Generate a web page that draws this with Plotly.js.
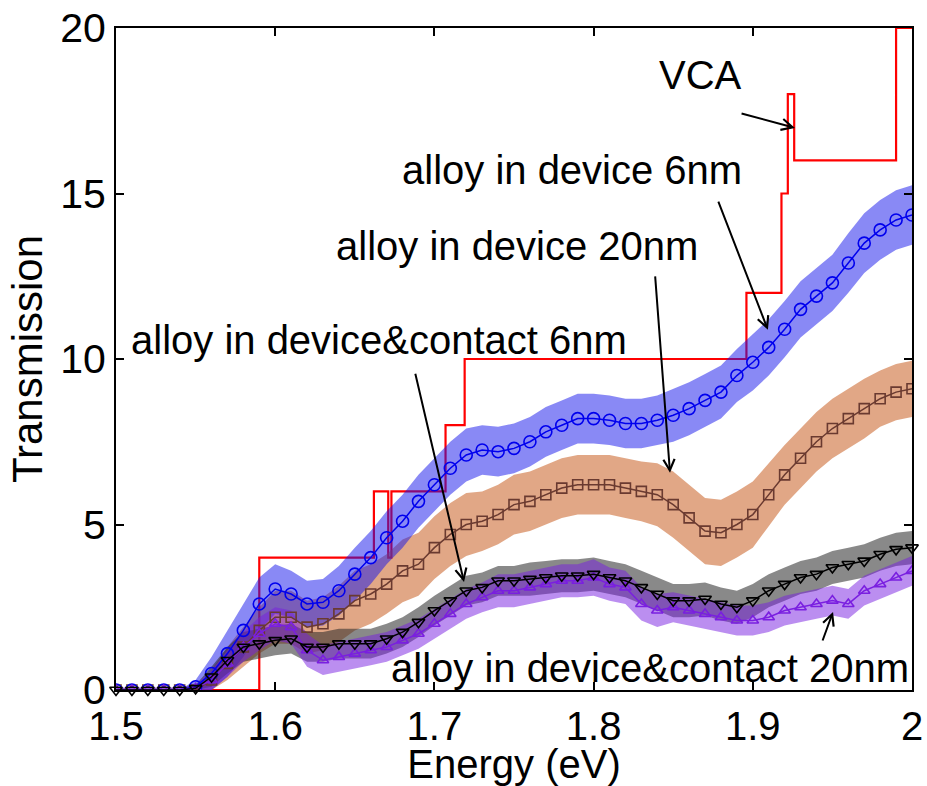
<!DOCTYPE html>
<html>
<head>
<meta charset="utf-8">
<script src="https://cdn.plot.ly/plotly-3.0.1.min.js"></script>
<style>html,body{margin:0;padding:0;background:#fff;}#plot{width:927px;height:786px;}</style>
</head>
<body>
<div id="plot"></div>
<script>
// Energy grid (eV)
const energy = [1.50,1.51,1.52,1.53,1.54,1.55,1.56,1.57,1.58,1.59,1.60,1.61,1.62,1.63,1.64,1.65,1.66,1.67,1.68,1.69,1.70,
  1.71,1.72,1.73,1.74,1.75,1.76,1.77,1.78,1.79,1.80,1.81,1.82,1.83,1.84,1.85,1.86,1.87,1.88,1.89,1.90,
  1.91,1.92,1.93,1.94,1.95,1.96,1.97,1.98,1.99,2.00];

// alloy in device 6nm (blue circles)
const dev6 = [0,0,0,0,0,0.1,0.5,1.1,1.8,2.6,3.05,2.9,2.6,2.65,3.0,3.5,4.0,4.6,5.1,5.7,6.2,
  6.7,7.1,7.25,7.2,7.3,7.5,7.8,8.0,8.2,8.2,8.15,8.05,8.05,8.15,8.3,8.5,8.75,9.0,9.5,9.9,
  10.35,10.9,11.5,11.9,12.3,12.9,13.5,13.9,14.2,14.35];
const dev6Spread = [0,0,0,0,0,0.2,0.5,0.7,0.8,0.8,0.75,0.7,0.7,0.7,0.75,0.8,0.8,0.8,0.8,0.8,0.8,
  0.8,0.8,0.75,0.75,0.75,0.75,0.75,0.75,0.75,0.75,0.75,0.75,0.75,0.75,0.8,0.8,0.8,0.8,0.8,0.85,
  0.85,0.85,0.85,0.85,0.85,0.9,0.9,0.9,0.9,0.9];

// alloy in device 20nm (brown squares)
const dev20 = [0,0,0,0,0,0,0.3,0.8,1.3,1.8,2.2,2.2,1.9,2.0,2.3,2.7,2.9,3.2,3.6,3.8,4.3,
  4.7,5.0,5.1,5.3,5.6,5.7,5.9,6.1,6.2,6.2,6.2,6.1,6.0,5.9,5.6,5.2,4.8,4.75,5.0,5.3,
  5.9,6.5,7.0,7.5,7.9,8.2,8.5,8.8,9.0,9.1];
const dev20Spread = [0,0,0,0,0,0,0.3,0.5,0.6,0.7,0.8,0.8,0.8,0.8,0.85,0.9,0.9,0.9,0.95,0.95,0.95,
  0.95,0.95,0.9,0.9,0.9,0.9,0.9,0.9,0.9,0.9,0.9,0.9,0.9,0.95,1.0,1.0,1.0,1.0,1.0,1.0,
  0.95,0.9,0.9,0.9,0.9,0.9,0.9,0.85,0.85,0.85];

// alloy in device&contact 6nm (black down-triangles)
const devc6 = [0,0,0,0,0,0.05,0.4,0.9,1.3,1.4,1.5,1.55,1.3,1.3,1.4,1.4,1.4,1.55,1.75,2.05,2.4,
  2.7,3.0,3.1,3.3,3.3,3.35,3.4,3.45,3.45,3.5,3.4,3.3,3.1,2.9,2.7,2.7,2.75,2.6,2.5,2.7,
  3.0,3.2,3.4,3.5,3.7,3.8,3.9,4.1,4.25,4.3];
const devc6Spread = [0.05,0.05,0.05,0.05,0.05,0.1,0.3,0.4,0.45,0.45,0.45,0.45,0.45,0.45,0.45,0.45,0.45,0.45,0.45,0.45,0.45,
  0.45,0.45,0.45,0.45,0.45,0.5,0.5,0.5,0.5,0.5,0.5,0.5,0.5,0.5,0.5,0.5,0.5,0.5,0.5,0.5,
  0.5,0.5,0.5,0.5,0.5,0.5,0.5,0.5,0.5,0.5];

// alloy in device&contact 20nm (purple up-triangles)
const devc20 = [0,0,0,0,0,0.05,0.3,0.8,1.3,1.7,2.0,1.9,1.2,0.9,1.0,1.1,1.2,1.3,1.5,1.7,2.0,
  2.3,2.6,2.8,3.0,3.0,3.1,3.2,3.3,3.3,3.4,3.2,3.1,2.6,2.4,2.5,2.4,2.3,2.2,2.1,2.1,
  2.2,2.4,2.5,2.6,2.7,2.6,3.0,3.2,3.4,3.6];
const devc20Spread = [0.08,0.08,0.08,0.08,0.08,0.1,0.3,0.4,0.45,0.5,0.5,0.5,0.5,0.45,0.45,0.45,0.45,0.45,0.45,0.45,0.45,
  0.45,0.45,0.45,0.5,0.5,0.5,0.5,0.5,0.5,0.55,0.5,0.5,0.5,0.5,0.45,0.45,0.45,0.45,0.45,0.45,
  0.45,0.45,0.45,0.45,0.45,0.45,0.45,0.45,0.45,0.45];

// VCA step curve (drawn with 'hv' steps)
const vcaE = [1.50,1.590,1.662,1.671,1.673,1.707,1.719,1.896,1.918,1.922,1.926,1.990,2.000];
const vcaT = [0,4,6,4,6,8,10,12,15,18,16,20,20];

// Labels
const labels = ["VCA","alloy in device 6nm","alloy in device 20nm","alloy in device&contact 6nm","alloy in device&contact 20nm"];
const xTicks = [1.5,1.6,1.7,1.8,1.9,2];
const xTickText = ["1.5","1.6","1.7","1.8","1.9","2"];
const yTicks = [0,5,10,15,20];

function band(x, y, s, color) {
  const up = y.map((v,i)=>v+s[i]);
  const lo = y.map((v,i)=>Math.max(0,v-s[i]));
  return {x: x.concat(x.slice().reverse()), y: up.concat(lo.slice().reverse()),
    type:'scatter', mode:'lines', fill:'toself', fillcolor:color, line:{width:0}, hoverinfo:'skip', showlegend:false};
}
function curve(x, y, color, symbol, size, clip) {
  return {x:x, y:y, type:'scatter', mode:'lines+markers', cliponaxis:clip, line:{color:color, width:1.5},
    marker:{symbol:symbol, size:size, color:color, line:{color:color, width:1.6}}, showlegend:false};
}

const traces = [
  {x:vcaE, y:vcaT, type:'scatter', mode:'lines', line:{color:'#ff0000', width:2.2, shape:'hv'}, showlegend:false},
  band(energy, dev20, dev20Spread, 'rgba(200,95,35,0.55)'),
  band(energy, dev6, dev6Spread, 'rgba(20,20,235,0.5)'),
  band(energy, devc6, devc6Spread, 'rgba(40,40,40,0.55)'),
  band(energy, devc20, devc20Spread, 'rgba(120,30,225,0.5)'),
  curve(energy, dev20, '#6a3a30', 'square-open', 10, true),
  curve(energy, dev6, '#0000ee', 'circle-open', 12, true),
  curve(energy, devc20, '#7a1fe0', 'triangle-up-open', 10, true),
  curve(energy, devc6, '#000000', 'triangle-down-open', 11, false)
];

const fontFam = 'Liberation Sans, Arial, sans-serif';
function txt(t, x, y) {
  return {text:t, xref:'paper', yref:'paper', x:x, y:y, showarrow:false, xanchor:'center', yanchor:'middle',
    font:{family:fontFam, size:40, color:'#000'}};
}
function arrow(x, y, ax, ay) {
  return {text:'', x:x, y:y, ax:ax, ay:ay, xref:'x', yref:'y', axref:'x', ayref:'y', showarrow:true,
    arrowhead:5, arrowsize:1.1, arrowwidth:2, arrowcolor:'#000', standoff:0, startstandoff:0};
}
// paper coords helper: plot area l=116,r=912,t=28,b=690
function px(x){return (x-116)/796;}
function py(y){return (690-y)/662;}

const layout = {
  width:927, height:786,
  margin:{l:116, r:15, t:28, b:96},
  paper_bgcolor:'#fff', plot_bgcolor:'#fff',
  font:{family:fontFam, color:'#000'},
  xaxis:{range:[1.5,2.0], tickvals:xTicks, ticktext:xTickText, ticks:'inside', ticklen:8, tickwidth:2, tickcolor:'#000',
    showline:true, linewidth:2, linecolor:'#000', mirror:'ticks', showgrid:false, zeroline:false,
    tickfont:{size:40, family:fontFam}, title:{text:'Energy (eV)', font:{size:40, family:fontFam}, standoff:6}},
  yaxis:{range:[0,20], tickvals:yTicks, ticks:'inside', ticklen:8, tickwidth:2, tickcolor:'#000',
    showline:true, linewidth:2, linecolor:'#000', mirror:'ticks', showgrid:false, zeroline:false,
    tickfont:{size:41, family:fontFam}, title:{text:'Transmission', font:{size:42, family:fontFam}, standoff:4}},
  annotations:[
    txt(labels[0], px(700), py(75)),
    txt(labels[1], px(572), py(170)),
    txt(labels[2], px(517), py(246)),
    txt(labels[3], px(379), py(340)),
    txt(labels[4], px(650), py(668)),
    arrow(1.9265, 16.98, 1.892, 17.43),
    arrow(1.9095, 10.88, 1.878, 14.8),
    arrow(1.848, 6.56, 1.8386, 12.54),
    arrow(1.7186, 3.26, 1.6878, 9.6),
    arrow(1.9504, 2.36, 1.9435, 1.45)
  ]
};

Plotly.newPlot('plot', traces, layout, {staticPlot:true, displayModeBar:false});
</script>
</body>
</html>
